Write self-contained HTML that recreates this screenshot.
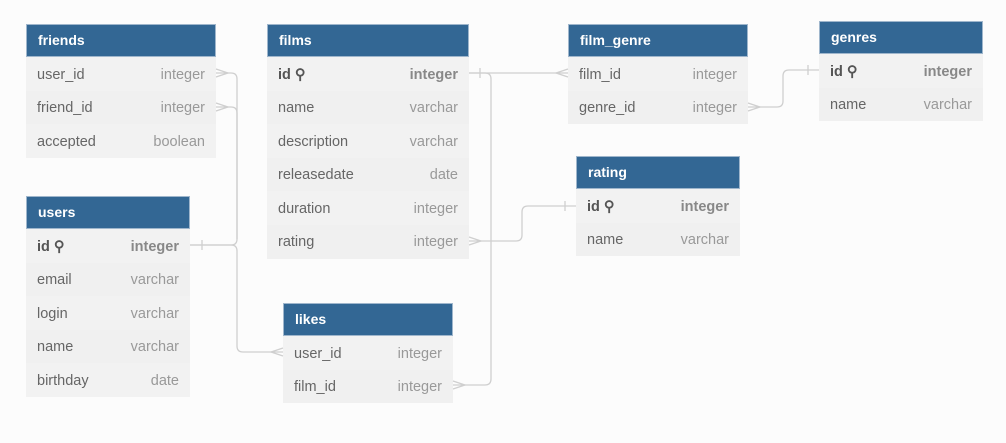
<!DOCTYPE html>
<html><head><style>
body{margin:0;width:1006px;height:443px;background:#fcfcfc;position:relative;overflow:hidden;font-family:"Liberation Sans",sans-serif;}
.t{position:absolute;background:#f2f2f2;}
.h{background:#336794;color:#fff;font-weight:bold;font-size:14px;height:33px;line-height:31px;padding-left:11px;border:1px solid #9fb6cc;box-sizing:border-box;}
.r{height:33.6px;line-height:32px;padding-top:1.5px;font-size:14.5px;color:#666;padding-left:11px;padding-right:11px;display:flex;justify-content:space-between;box-sizing:border-box;}
.r:nth-child(odd){background:#f0f0f0;}
.r span:last-child{color:#999;}
.k{font-weight:bold;color:#555;}
.k span:last-child{color:#888;}
svg{position:absolute;left:0;top:0;}
</style></head><body>
<div class="t" style="left:26px;top:24px;width:190px"><div class="h">friends</div>
<div class="r"><span>user_id</span><span>integer</span></div>
<div class="r"><span>friend_id</span><span>integer</span></div>
<div class="r"><span>accepted</span><span>boolean</span></div></div>

<div class="t" style="left:267px;top:24px;width:202px"><div class="h">films</div>
<div class="r k"><span>id ⚲</span><span>integer</span></div>
<div class="r"><span>name</span><span>varchar</span></div>
<div class="r"><span>description</span><span>varchar</span></div>
<div class="r"><span>releasedate</span><span>date</span></div>
<div class="r"><span>duration</span><span>integer</span></div>
<div class="r"><span>rating</span><span>integer</span></div></div>

<div class="t" style="left:568px;top:24px;width:180px"><div class="h">film_genre</div>
<div class="r"><span>film_id</span><span>integer</span></div>
<div class="r"><span>genre_id</span><span>integer</span></div></div>

<div class="t" style="left:819px;top:21px;width:164px"><div class="h">genres</div>
<div class="r k"><span>id ⚲</span><span>integer</span></div>
<div class="r"><span>name</span><span>varchar</span></div></div>

<div class="t" style="left:576px;top:156px;width:164px"><div class="h">rating</div>
<div class="r k"><span>id ⚲</span><span>integer</span></div>
<div class="r"><span>name</span><span>varchar</span></div></div>

<div class="t" style="left:26px;top:196px;width:164px"><div class="h">users</div>
<div class="r k"><span>id ⚲</span><span>integer</span></div>
<div class="r"><span>email</span><span>varchar</span></div>
<div class="r"><span>login</span><span>varchar</span></div>
<div class="r"><span>name</span><span>varchar</span></div>
<div class="r"><span>birthday</span><span>date</span></div></div>

<div class="t" style="left:283px;top:303px;width:170px"><div class="h">likes</div>
<div class="r"><span>user_id</span><span>integer</span></div>
<div class="r"><span>film_id</span><span>integer</span></div></div>

<svg width="1006" height="443" fill="none" stroke="#cfcfcf" stroke-width="1.3">
<path d="M216 73 H231 Q237 73 237 79 V239 Q237 245 231 245 H190"/>
<path d="M216 107 H231 Q237 107 237 113 V239"/>
<path d="M190 245 H231 Q237 245 237 251 V346 Q237 352 243 352 H283"/>
<path d="M216 69 L228 73 L216 77 M216 103 L228 107 L216 111"/>
<path d="M283 348 L271 352 L283 356"/>
<path d="M202 240 V250"/>
<path d="M469 73 H568"/>
<path d="M469 73 H485 Q491 73 491 79 V379 Q491 385 485 385 H453"/>
<path d="M480 68 V78"/>
<path d="M568 69 L556 73 L568 77"/>
<path d="M453 381 L465 385 L453 389"/>
<path d="M748 107 H777 Q783 107 783 101 V76 Q783 70 789 70 H819"/>
<path d="M748 103 L760 107 L748 111"/>
<path d="M808 65 V75"/>
<path d="M469 241 H516 Q522 241 522 235 V212 Q522 206 528 206 H576"/>
<path d="M469 237 L481 241 L469 245"/>
<path d="M565 201 V211"/>
</svg>
</body></html>
